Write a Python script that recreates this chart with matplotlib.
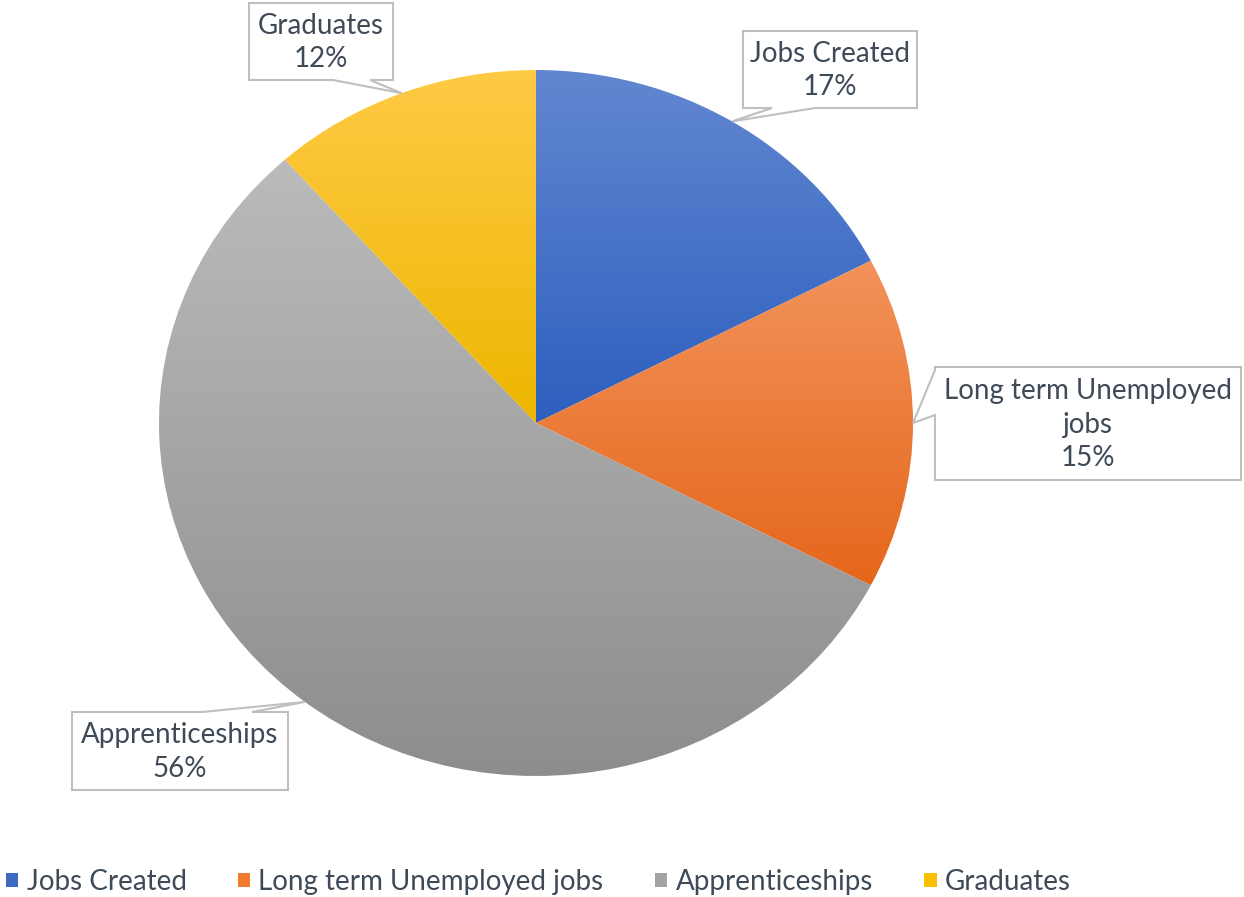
import matplotlib.pyplot as plt
import numpy as np
from matplotlib.colors import to_rgba
from matplotlib.patches import Patch, Polygon

plt.rcParams["font.family"] = ["Lato", "DejaVu Sans"]

# Data
categories = ["Jobs Created", "Long term Unemployed jobs", "Apprenticeships", "Graduates"]
label_text = ["Jobs Created", "Long term Unemployed\njobs", "Apprenticeships", "Graduates"]
shares = [17.4, 15.2, 55.8, 11.6]

# Style: top / bottom gradient colours per slice, legend colour
grad_top = ["#6287D0", "#F2935B", "#BBBBBB", "#FFCA45"]
grad_bottom = ["#2D5FBF", "#E5661A", "#8D8D8D", "#EDB600"]
legend_colors = ["#3C69C4", "#EE7A30", "#A3A3A3", "#F9C000"]
text_color = "#3E4A58"
border_color = "#BFBFBF"

W, H = 1244, 897
fig = plt.figure(figsize=(W / 100, H / 100), dpi=100)

# pie axes: centre (536, 423), rx 377, ry 353 in pixels
cx, cy, rx, ry = 536, 423, 377, 353
ax = fig.add_axes([(cx - rx) / W, (H - cy - ry) / H, 2 * rx / W, 2 * ry / H])
wedges, _ = ax.pie(shares, startangle=90, counterclock=False, radius=1,
                   wedgeprops=dict(linewidth=0))

for w, top, bot in zip(wedges, grad_top, grad_bottom):
    v = w.get_path().vertices
    x0, x1 = v[:, 0].min(), v[:, 0].max()
    y0, y1 = v[:, 1].min(), v[:, 1].max()
    t = np.linspace(0, 1, 256)[:, None]
    c0, c1 = np.array(to_rgba(top)), np.array(to_rgba(bot))
    img = (c0 * (1 - t) + c1 * t)[:, None, :]
    w.set_facecolor("none")
    im = ax.imshow(img, extent=(x0, x1, y0, y1), origin="upper",
                   aspect="auto", interpolation="bilinear", zorder=1)
    im.set_clip_path(w)

ax.set_xlim(-1, 1)
ax.set_ylim(-1, 1)
ax.set_aspect("auto")
ax.axis("off")

# overlay axes in pixel coordinates for callouts
bg = fig.add_axes([0, 0, 1, 1], zorder=5)
bg.set_xlim(0, W)
bg.set_ylim(H, 0)
bg.axis("off")
bg.patch.set_alpha(0)

# callout boxes: (x0, y0, x1, y1), side, tail base
boxes = [
    ((743, 31, 917, 108), "bottom", (772, 815)),
    ((935, 367, 1241, 480), "left", (370, 415)),
    ((72, 712, 288, 790), "top", (202, 252)),
    ((249, 3, 393, 80), "bottom", (333, 370)),
]

fig.canvas.draw()
to_px = ax.transData + bg.transData.inverted()

for w, lab, pct, (box, side, base) in zip(wedges, label_text, shares, boxes):
    mid = np.deg2rad((w.theta1 + w.theta2) / 2)
    tip = tuple(to_px.transform((np.cos(mid), np.sin(mid))))
    x0, y0, x1, y1 = box
    b0, b1 = base
    pts = [(x0, y0)]
    if side == "top":
        pts += [(b0, y0), tip, (b1, y0)]
    pts += [(x1, y0), (x1, y1)]
    if side == "bottom":
        pts += [(b1, y1), tip, (b0, y1)]
    pts += [(x0, y1)]
    if side == "left":
        pts += [(x0, b1), tip, (x0, b0)]
    bg.add_patch(Polygon(pts, closed=True, facecolor="white",
                         edgecolor=border_color, linewidth=1.5, joinstyle="miter"))
    bg.text((x0 + x1) / 2, (y0 + y1) / 2 + 1, f"{lab}\n{pct:.0f}%", ha="center",
            va="center", fontsize=20, color=text_color, linespacing=1.38)

handles = [Patch(facecolor=c, edgecolor="none", label=n)
           for c, n in zip(legend_colors, categories)]
fig.legend(handles=handles, loc="center left", bbox_to_anchor=(6 / W, 1 - 882 / H),
           ncol=4, frameon=False, fontsize=20, handlelength=0.44, handleheight=0.44,
           handletextpad=0.3, columnspacing=1.85, borderaxespad=0, borderpad=0,
           labelcolor=text_color)

fig.savefig("out.png", dpi=100)
